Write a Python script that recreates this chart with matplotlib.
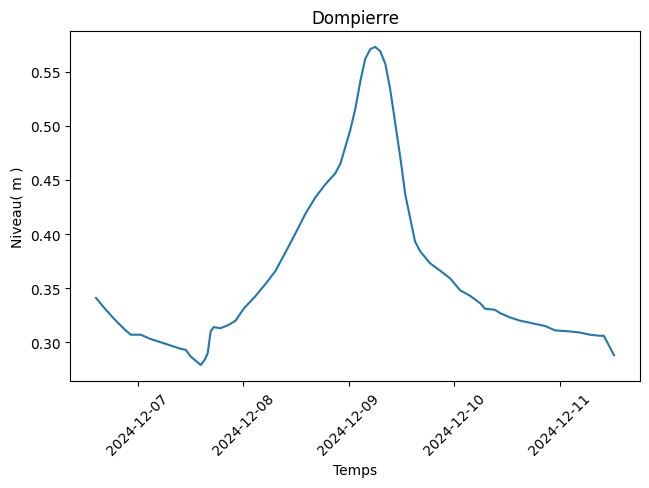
import matplotlib
matplotlib.use("Agg")
import matplotlib.pyplot as plt
import matplotlib.dates as mdates
import pandas as pd

times = [
    "2024-12-06 14:30", "2024-12-06 16:45", "2024-12-06 19:00", "2024-12-06 21:15",
    "2024-12-06 22:25", "2024-12-07 00:40", "2024-12-07 02:55", "2024-12-07 05:15",
    "2024-12-07 07:30", "2024-12-07 09:45", "2024-12-07 10:55", "2024-12-07 12:00",
    "2024-12-07 14:20", "2024-12-07 15:15", "2024-12-07 15:55", "2024-12-07 16:35",
    "2024-12-07 17:15", "2024-12-07 18:50", "2024-12-07 20:40", "2024-12-07 22:15",
    "2024-12-08 00:05", "2024-12-08 02:50", "2024-12-08 05:05", "2024-12-08 07:20",
    "2024-12-08 09:35", "2024-12-08 11:55", "2024-12-08 14:10", "2024-12-08 16:25",
    "2024-12-08 18:40", "2024-12-08 20:55", "2024-12-08 22:05", "2024-12-08 23:15",
    "2024-12-09 00:20", "2024-12-09 01:30", "2024-12-09 02:40", "2024-12-09 03:45",
    "2024-12-09 04:55", "2024-12-09 06:00", "2024-12-09 07:10", "2024-12-09 08:20",
    "2024-12-09 09:25", "2024-12-09 10:35", "2024-12-09 11:45", "2024-12-09 12:50",
    "2024-12-09 14:00", "2024-12-09 15:05", "2024-12-09 16:15", "2024-12-09 18:30",
    "2024-12-09 20:50", "2024-12-09 23:05", "2024-12-10 01:20", "2024-12-10 03:35",
    "2024-12-10 05:55", "2024-12-10 07:00", "2024-12-10 09:15", "2024-12-10 10:25",
    "2024-12-10 12:40", "2024-12-10 14:55", "2024-12-10 17:15", "2024-12-10 20:40",
    "2024-12-10 22:55", "2024-12-11 02:20", "2024-12-11 04:35", "2024-12-11 06:50",
    "2024-12-11 09:10", "2024-12-11 10:00", "2024-12-11 10:55", "2024-12-11 12:20",
]
niveau = [
    0.341, 0.330, 0.320, 0.311,
    0.307, 0.307, 0.303, 0.300,
    0.297, 0.294, 0.293, 0.287,
    0.279, 0.284, 0.290, 0.310,
    0.314, 0.313, 0.316, 0.320,
    0.331, 0.343, 0.354, 0.366,
    0.383, 0.401, 0.419, 0.434,
    0.446, 0.456, 0.465, 0.481,
    0.496, 0.516, 0.542, 0.562,
    0.571, 0.573, 0.569, 0.557,
    0.534, 0.502, 0.470, 0.437,
    0.414, 0.393, 0.384, 0.373,
    0.366, 0.359, 0.348, 0.343,
    0.336, 0.331, 0.330, 0.327,
    0.323, 0.320, 0.318, 0.315,
    0.311, 0.310, 0.309, 0.307,
    0.306, 0.306, 0.299, 0.288,
]

t = pd.to_datetime(times)

fig, ax = plt.subplots(figsize=(6.49, 4.89), dpi=100)
fig.subplots_adjust(left=0.108, right=0.986, top=0.9346, bottom=0.219)
ax.plot(t, niveau, color="#1f77b4", linewidth=1.5)
ax.set_title("Dompierre")
ax.set_xlabel("Temps")
ax.set_ylabel("Niveau( m )")
ax.xaxis.set_major_locator(mdates.DayLocator())
ax.xaxis.set_major_formatter(mdates.DateFormatter("%Y-%m-%d"))
plt.setp(ax.get_xticklabels(), rotation=45)
fig.savefig("out.png", dpi=100)
